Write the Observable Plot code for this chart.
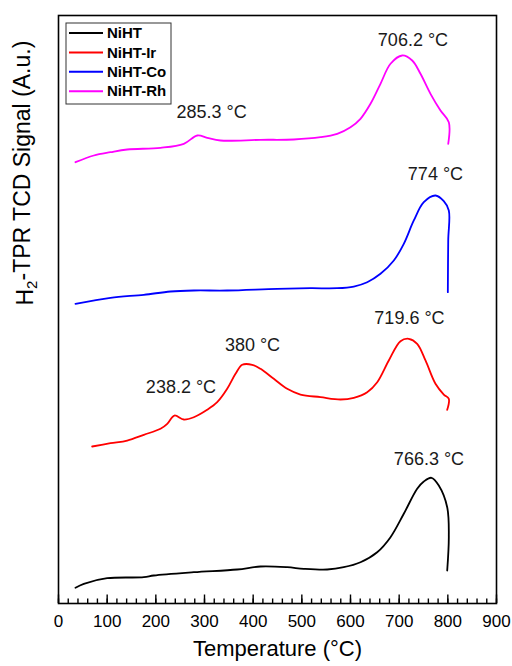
<!DOCTYPE html>
<html><head><meta charset="utf-8">
<script src="https://cdn.jsdelivr.net/npm/d3@7"></script>
<script src="https://cdn.jsdelivr.net/npm/@observablehq/plot@0.6"></script>
<style>
html,body{margin:0;padding:0;background:#fff}
</style>
</head><body><div id="chart"></div>
<script>
const seriesNames = ["NiHT", "NiHT-Ir", "NiHT-Co", "NiHT-Rh"];
const seriesColors = ["#000000", "#ff0000", "#0000ff", "#ff00ff"];

const nihtTemp = [34.9, 52.0, 100.1, 175.3, 195.8, 278.0, 367.2, 415.1, 469.9, 504.0, 552.1, 586.2, 620.5, 654.8, 682.2, 709.5, 737.0, 750.6, 766.3, 781.4, 798.7, 802.0, 798.7];
const nihtSignal = [2.67, 3.35, 4.30, 4.47, 4.76, 5.32, 5.78, 6.29, 6.17, 5.90, 5.78, 6.17, 7.02, 8.72, 11.28, 15.26, 19.51, 20.75, 21.38, 20.07, 16.38, 11.28, 5.61];

const irTemp = [69.2, 106.8, 141.2, 175.3, 209.6, 223.4, 238.2, 257.5, 278.0, 305.5, 326.1, 346.6, 363.7, 377.5, 398.0, 415.1, 442.4, 469.9, 497.2, 538.3, 579.5, 606.8, 634.3, 654.9, 678.7, 702.7, 719.6, 737.0, 754.1, 774.6, 791.7, 802.0, 798.7];
const irSignal = [26.70, 27.26, 27.72, 28.69, 29.71, 30.56, 31.97, 31.29, 31.68, 32.94, 34.23, 36.51, 39.06, 40.60, 40.60, 39.91, 38.21, 36.51, 35.54, 35.09, 34.69, 34.98, 35.94, 37.64, 41.33, 44.61, 45.02, 44.17, 41.33, 37.36, 35.54, 34.81, 32.94];

const coTemp = [34.9, 106.8, 175.3, 230.1, 278.0, 346.6, 449.4, 517.8, 572.7, 606.8, 634.3, 661.6, 689.0, 709.5, 730.1, 750.6, 774.6, 791.7, 802.0, 800.8, 800.0];
const coSignal = [50.97, 51.99, 52.50, 53.06, 53.23, 53.23, 53.52, 53.62, 53.62, 53.91, 54.64, 56.07, 58.33, 61.17, 65.14, 68.25, 69.39, 68.42, 66.84, 61.73, 52.94];

const rhTemp = [34.9, 72.5, 106.8, 141.2, 209.6, 257.5, 285.3, 305.5, 332.9, 415.1, 483.5, 538.4, 572.7, 600.0, 620.5, 641.1, 661.6, 682.2, 706.2, 726.8, 743.8, 764.4, 784.9, 802.0, 800.8];
const rhSignal = [75.05, 76.19, 76.75, 77.21, 77.50, 78.18, 79.59, 79.20, 78.74, 78.86, 78.91, 79.30, 79.88, 81.0, 82.43, 84.98, 88.38, 91.79, 93.2, 92.35, 90.09, 86.68, 83.84, 81.85, 78.18];

const annoText = ["706.2 °C", "285.3 °C", "774 °C", "719.6 °C", "380 °C", "238.2 °C", "766.3 °C"];
const annoTemp = [728.4, 314.4, 774.6, 721.2, 398.6, 251.7, 761.3];
const annoSignal = [95.75, 83.50, 72.96, 48.47, 43.88, 36.73, 24.49];

const majorTicks = [0, 100, 200, 300, 400, 500, 600, 700, 800, 900];
const minorTicks = d3.range(0, 901, 20);

const xLabel = "Temperature (°C)";
const yLabel = "H2-TPR TCD Signal (A.u.)";

const temps = [nihtTemp, irTemp, coTemp, rhTemp];
const signals = [nihtSignal, irSignal, coSignal, rhSignal];
const rows = [];
seriesNames.forEach((name, i) => {
  temps[i].forEach((t, j) => rows.push({series: name, t, s: signals[i][j]}));
});
const annos = annoText.map((text, i) => ({text, t: annoTemp[i], s: annoSignal[i]}));

const FONT = '"Liberation Sans", Arial, Helvetica, sans-serif';
const W = 512, H = 666, ML = 58, MR = 16, MT = 15, MB = 63;
const frameH = H - MT - MB;
const yMax = 100;
const pxToY = px => px * yMax / frameH;

const plot = Plot.plot({
  width: W,
  height: H,
  marginLeft: ML,
  marginRight: MR,
  marginTop: MT,
  marginBottom: MB,
  style: {fontFamily: FONT, fontSize: "17px", background: "#fff"},
  x: {domain: [0, 900]},
  y: {domain: [0, yMax], axis: null},
  color: {domain: seriesNames, range: seriesColors},
  marks: [
    Plot.axisX({ticks: majorTicks, tickSize: 0, tickPadding: 11, label: null, fontSize: 17, tickFormat: d => String(d)}),
    Plot.line(rows, {x: "t", y: "s", z: "series", stroke: "series", strokeWidth: 1.8, curve: "catmull-rom"}),
    Plot.text(annos, {x: "t", y: "s", text: "text", fontSize: 18, fill: "#1a1a1a"}),
    Plot.text([xLabel], {frameAnchor: "bottom", dy: 52, fontSize: 22, fill: "#000"}),
    Plot.text([yLabel], {frameAnchor: "left", dx: -33, dy: -4, rotate: -90, fontSize: 23, fill: "#000", className: "ylab"}),
    Plot.frame({stroke: "#000", strokeWidth: 1.6}),
    Plot.ruleX(minorTicks, {x: d => d, y1: 0, y2: pxToY(4.5), stroke: "#000", strokeWidth: 1.4}),
    Plot.ruleX(majorTicks, {x: d => d, y1: 0, y2: pxToY(8.5), stroke: "#000", strokeWidth: 1.4})
  ]
});

document.getElementById("chart").appendChild(plot);

const svg = d3.select(plot);

// subscript for H2
svg.selectAll(".ylab text").each(function() {
  const t = d3.select(this);
  t.text(null);
  t.append("tspan").text("H");
  t.append("tspan").attr("dy", "0.3em").attr("font-size", "15px").text("2");
  t.append("tspan").attr("dy", "-0.3em").text("-TPR TCD Signal (A.u.)");
});

// legend
const lg = svg.append("g").attr("font-family", FONT).attr("text-anchor", "start");
lg.append("rect").attr("x", 66).attr("y", 23).attr("width", 105).attr("height", 81)
  .attr("fill", "#fff").attr("stroke", "#333").attr("stroke-width", 1);
seriesNames.forEach((name, i) => {
  const yy = 33 + i * 19.4;
  lg.append("line").attr("x1", 69).attr("x2", 103).attr("y1", yy).attr("y2", yy)
    .attr("stroke", seriesColors[i]).attr("stroke-width", 2);
  lg.append("text").attr("x", 107).attr("y", yy).attr("dy", "0.35em")
    .attr("text-anchor", "start")
    .attr("font-size", 15).attr("font-weight", "bold").attr("fill", "#000").text(name);
});
</script>
</body></html>
